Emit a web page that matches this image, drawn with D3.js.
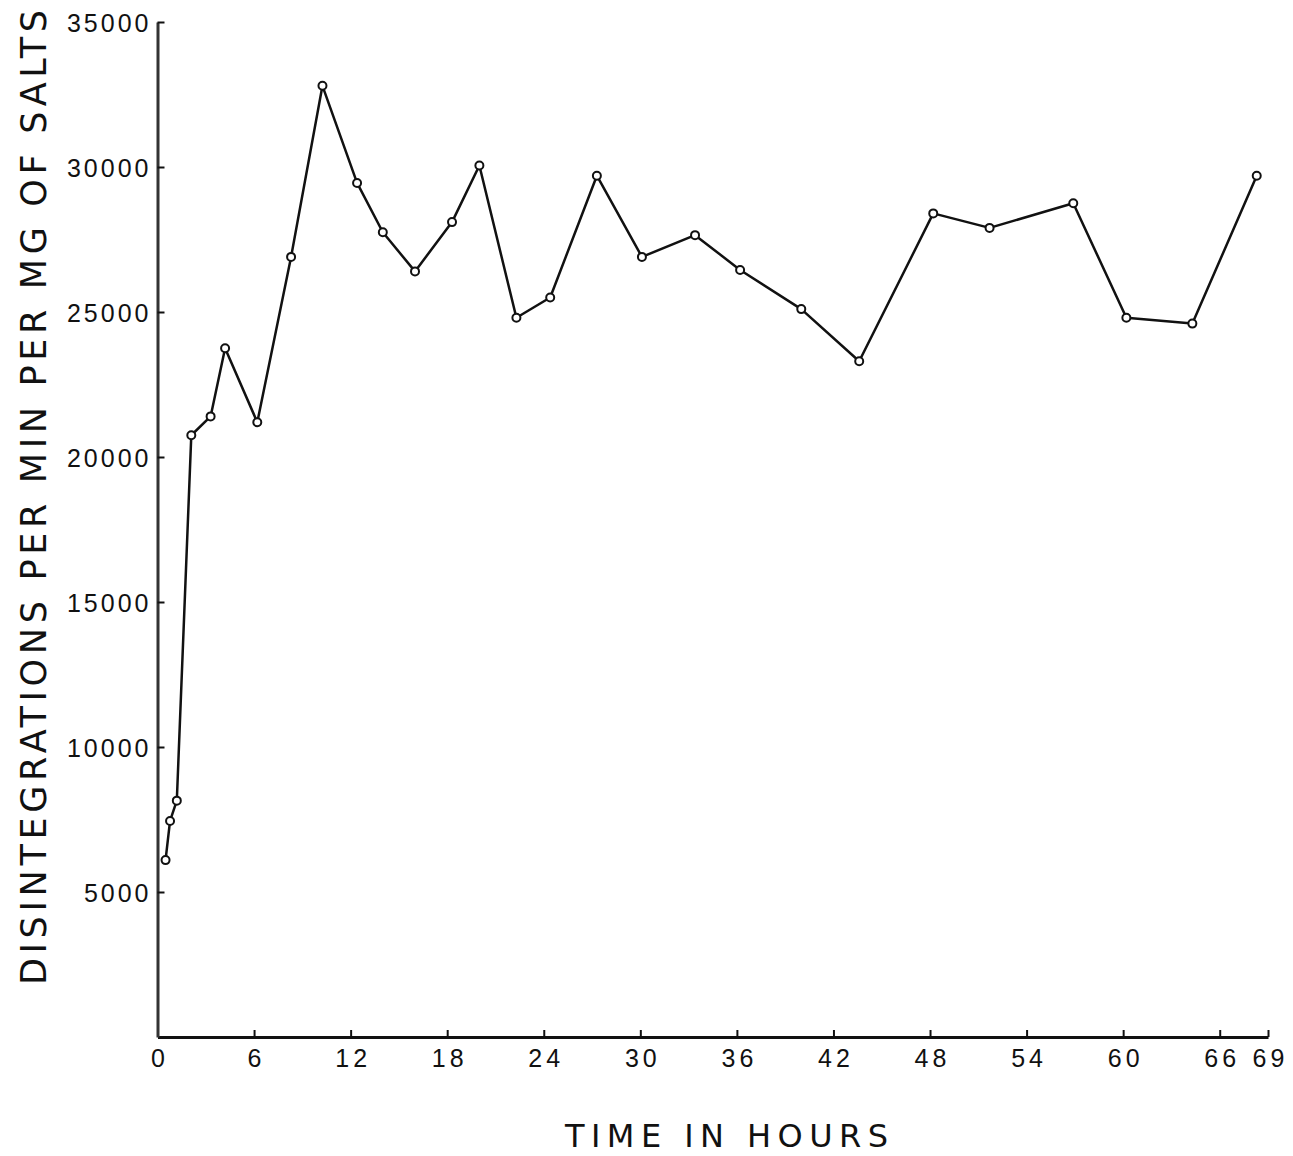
<!DOCTYPE html>
<html>
<head>
<meta charset="utf-8">
<script src="https://cdn.jsdelivr.net/npm/d3@7"></script>
<style>
  html, body { margin: 0; padding: 0; background: #fff; }
  svg { display: block; font-family: "DejaVu Sans", sans-serif; }
</style>
</head>
<body>
<div id="chart"></div>
<script>
// hours after start
const hours = [0.5, 0.78, 1.2, 2.1, 3.3, 4.2, 6.2, 8.3, 10.25, 12.4, 14.0, 16.0, 18.3, 20.0,
               22.3, 24.4, 27.3, 30.1, 33.4, 36.2, 40.0, 43.6, 48.2, 51.7, 56.9, 60.2, 64.3, 68.3];
// disintegrations per min per mg of salts
const counts = [6100, 7450, 8150, 20750, 21400, 23750, 21200, 26900, 32800, 29450, 27750, 26400, 28100, 30050,
                24800, 25500, 29700, 26900, 27650, 26450, 25100, 23300, 28400, 27900, 28750, 24800, 24600, 29700];

const xTicks = [0, 6, 12, 18, 24, 30, 36, 42, 48, 54, 60, 66, 69];
const yTicks = [5000, 10000, 15000, 20000, 25000, 30000, 35000];

const xLabel = "TIME IN HOURS";
const yLabel = "DISINTEGRATIONS PER MIN PER MG OF SALTS";

const width = 1293, height = 1156;

const x = d3.scaleLinear().domain([0, 69]).range([157.5, 1268]);
const y = d3.scaleLinear().domain([0, 35000]).range([1037, 22]);

const svg = d3.select("#chart").append("svg")
    .attr("width", width)
    .attr("height", height);

// x axis, ticks pointing up into the plot
const gx = svg.append("g")
    .attr("transform", `translate(0,${y(0)})`)
    .call(d3.axisBottom(x)
        .tickValues(xTicks)
        .tickSizeInner(-7)
        .tickSizeOuter(0)
        .tickPadding(6)
        .tickFormat(d3.format("d")));

gx.select(".domain").attr("stroke", "#111").attr("stroke-width", 3);
gx.selectAll(".tick line").attr("stroke", "#111").attr("stroke-width", 2);
gx.selectAll(".tick text")
    .attr("fill", "#111")
    .attr("font-size", 25)
    .attr("letter-spacing", 4)
    .attr("dx", 2)
    .attr("dy", "0.96em");

// y axis, ticks pointing right
const gy = svg.append("g")
    .attr("transform", `translate(${x(0)},0)`)
    .call(d3.axisLeft(y)
        .tickValues(yTicks)
        .tickSizeInner(-7)
        .tickSizeOuter(0)
        .tickPadding(6)
        .tickFormat(d3.format("d")));

gy.select(".domain").attr("stroke", "#333").attr("stroke-width", 3);
gy.selectAll(".tick line").attr("stroke", "#111").attr("stroke-width", 2);
gy.selectAll(".tick text")
    .attr("fill", "#111")
    .attr("font-size", 25)
    .attr("letter-spacing", 3)
    .attr("dy", "0.36em");

// axis titles
svg.append("text")
    .attr("x", 565)
    .attr("y", 1147)
    .attr("font-size", 32)
    .attr("fill", "#111")
    .attr("textLength", 323)
    .attr("lengthAdjust", "spacing")
    .text(xLabel);

svg.append("text")
    .attr("transform", "translate(46,985) rotate(-90)")
    .attr("font-size", 35)
    .attr("fill", "#111")
    .attr("textLength", 975)
    .attr("lengthAdjust", "spacing")
    .text(yLabel);

// data line
const pts = hours.map((h, i) => [h, counts[i]]);

const line = d3.line()
    .x(d => x(d[0]))
    .y(d => y(d[1]));

svg.append("path")
    .datum(pts)
    .attr("fill", "none")
    .attr("stroke", "#111")
    .attr("stroke-width", 2.5)
    .attr("stroke-linejoin", "round")
    .attr("d", line);

svg.append("g")
    .selectAll("circle")
    .data(pts)
    .join("circle")
    .attr("cx", d => x(d[0]))
    .attr("cy", d => y(d[1]))
    .attr("r", 4)
    .attr("fill", "#fff")
    .attr("stroke", "#111")
    .attr("stroke-width", 2);
</script>
</body>
</html>
